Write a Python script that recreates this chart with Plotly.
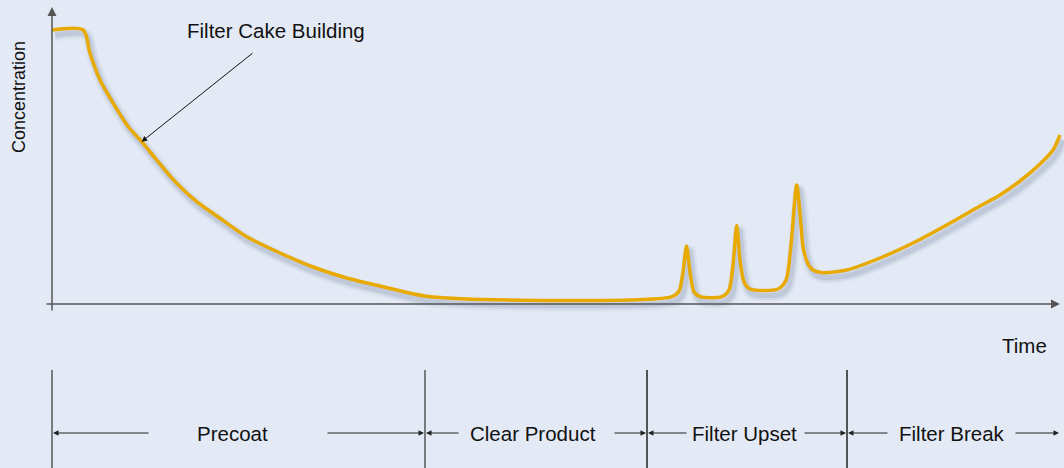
import plotly.graph_objects as go

# Curve data: time (t) vs concentration (c)
time = [0, 31.3, 38, 48, 61.3, 76.3, 89.7, 104.7, 124.7, 144.7, 168, 194.7, 228, 261, 294.7, 328, 378,
        620, 627, 631, 634.5, 638, 642, 648,
        670, 677, 681, 684.7, 688, 692, 698,
        726, 734, 739, 744.7, 749, 751, 756, 761, 771,
        794.7, 828, 861, 894.7, 928, 948, 968, 988, 1001, 1008]
conc = [274, 274, 250.7, 224, 200.7, 177.3, 162.3, 144, 120.7, 102.3, 85.7, 67.3, 51, 37, 26, 18, 7.3,
        7.3, 13, 32, 58, 32, 12, 7.3,
        7.3, 14, 39, 78.5, 44, 22, 15,
        15, 24, 59, 119, 79, 57.3, 40, 34, 31.3,
        34, 46, 61, 79, 98, 109, 123, 140, 154, 169]
assert len(time) == len(conc)

# Phase boundaries (time) and labels
phase_bounds = [0, 373, 595, 795, 1008]
phase_labels = ["Precoat", "Clear Product", "Filter Upset", "Filter Break"]
phase_text_x = [180, 481, 692, 899.5]
phase_left_arrow_tail = [98, 408, 636, 837]
phase_right_arrow_tail = [274, 561, 751, 962]

# geometry in data units
Y_AXIS_TOP = 297
Y_AXIS_BOT = -8
X_AXIS_LEFT = -7
X_AXIS_RIGHT = 1008
PHASE_Y = -129
PHASE_LINE_TOP = -66
PHASE_LINE_BOT = -164

BG = "#E3EAF5"
GOLD = "#E8A900"
AXIS = "#555555"
FONT = "Liberation Sans, Arial, sans-serif"
TXT = 20.5
SMOOTH = 0.75

fig = go.Figure()

# soft shadow under the curve
for w, a in [(12, 0.05), (8, 0.07), (5, 0.09)]:
    fig.add_trace(go.Scatter(
        x=[t + 3 for t in time], y=[c - 5 for c in conc], mode="lines",
        line=dict(color=f"rgba(60,70,110,{a})", width=w, shape="spline", smoothing=SMOOTH),
        hoverinfo="skip", showlegend=False))

fig.add_trace(go.Scatter(
    x=time, y=conc, mode="lines",
    line=dict(color=GOLD, width=3.5, shape="spline", smoothing=SMOOTH),
    showlegend=False))

shapes = []
for i, b in enumerate(phase_bounds[:-1]):
    shapes.append(dict(type="line", x0=b, x1=b, y0=PHASE_LINE_TOP, y1=PHASE_LINE_BOT,
                       xref="x", yref="y",
                       line=dict(color=AXIS if i < 2 else "#222222", width=1.5)))
fig.update_layout(shapes=shapes)

ann = []
ann.append(dict(x=0, y=Y_AXIS_TOP, ax=0, ay=Y_AXIS_BOT, xref="x", yref="y", axref="x", ayref="y",
                showarrow=True, arrowhead=2, arrowsize=1.2, arrowwidth=1.5, arrowcolor=AXIS, text=""))
ann.append(dict(x=X_AXIS_RIGHT, y=0, ax=X_AXIS_LEFT, ay=0, xref="x", yref="y", axref="x", ayref="y",
                showarrow=True, arrowhead=2, arrowsize=1.2, arrowwidth=1.5, arrowcolor=AXIS, text=""))

ann.append(dict(x=-33, y=207, xref="x", yref="y", text="Concentration", textangle=-90,
                showarrow=False, font=dict(family=FONT, size=18, color="#111")))
ann.append(dict(x=972, y=-41, xref="x", yref="y", text="Time",
                showarrow=False, font=dict(family=FONT, size=TXT, color="#111")))

ann.append(dict(x=89.7, y=162.3, ax=202, ay=252, xref="x", yref="y", axref="x", ayref="y",
                showarrow=True, arrowhead=2, arrowsize=1.1, arrowwidth=1, arrowcolor="#111", text=""))
ann.append(dict(x=223.5, y=274, xref="x", yref="y", text="Filter Cake Building",
                showarrow=False, font=dict(family=FONT, size=TXT, color="#111")))

for i, lab in enumerate(phase_labels):
    left, right = phase_bounds[i], phase_bounds[i + 1]
    ann.append(dict(x=phase_text_x[i], y=PHASE_Y, xref="x", yref="y", text=lab, showarrow=False,
                    font=dict(family=FONT, size=TXT, color="#111")))
    ann.append(dict(x=left + 1, y=PHASE_Y, ax=phase_left_arrow_tail[i], ay=PHASE_Y,
                    xref="x", yref="y", axref="x", ayref="y", showarrow=True, arrowhead=2,
                    arrowsize=1.1, arrowwidth=1, arrowcolor="#222", text=""))
    ann.append(dict(x=right - 1, y=PHASE_Y, ax=phase_right_arrow_tail[i], ay=PHASE_Y,
                    xref="x", yref="y", axref="x", ayref="y", showarrow=True, arrowhead=2,
                    arrowsize=1.1, arrowwidth=1, arrowcolor="#222", text=""))

fig.update_layout(
    annotations=ann,
    width=1064, height=468, autosize=False,
    margin=dict(l=0, r=0, t=0, b=0),
    paper_bgcolor=BG, plot_bgcolor=BG,
    xaxis=dict(range=[-52, 1012], visible=False, fixedrange=True),
    yaxis=dict(range=[-164, 304], visible=False, fixedrange=True),
)

fig.write_html("out.html", config={"displayModeBar": False},
               post_script="document.body.style.margin='0';document.body.style.background='%s';" % BG)
